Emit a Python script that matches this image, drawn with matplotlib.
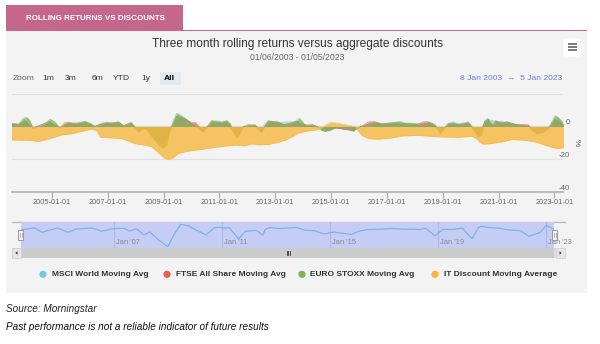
import matplotlib
matplotlib.use("Agg")
import matplotlib.pyplot as plt
from matplotlib.patches import Rectangle, Circle, FancyBboxPatch, Polygon
import matplotlib.transforms as mtransforms

plt.rcParams['font.family'] = ['Liberation Sans', 'DejaVu Sans']

# ---------------- data (decimal years, %) ----------------
euro_dates = [2003.55, 2003.79, 2003.97, 2004.10, 2004.21, 2004.32, 2004.45, 2004.63, 2004.81, 2004.93,
              2005.11, 2005.29, 2005.40, 2005.59, 2005.76, 2005.94, 2006.18, 2006.36, 2006.54, 2006.78,
              2006.96, 2007.14, 2007.38, 2007.56, 2007.83, 2007.97, 2008.10, 2008.21, 2008.33, 2008.45,
              2008.63, 2008.81, 2008.99, 2009.11, 2009.23, 2009.35, 2009.47, 2009.59, 2009.77, 2009.88,
              2010.00, 2010.12, 2010.24, 2010.42, 2010.60, 2010.72, 2010.90, 2011.08, 2011.26, 2011.38,
              2011.50, 2011.62, 2011.74, 2011.86, 2012.04, 2012.27, 2012.39, 2012.51, 2012.63, 2012.75,
              2012.93, 2013.11, 2013.29, 2013.41, 2013.59, 2013.77, 2013.85, 2013.94, 2014.06, 2014.18,
              2014.30, 2014.42, 2014.54, 2014.66, 2014.78, 2014.96, 2015.14, 2015.32, 2015.50, 2015.67,
              2015.79, 2015.91, 2016.09, 2016.27, 2016.45, 2016.63, 2016.81, 2017.05, 2017.29, 2017.47,
              2017.65, 2017.88, 2018.06, 2018.18, 2018.36, 2018.54, 2018.72, 2018.90, 2019.02, 2019.20,
              2019.38, 2019.55, 2019.73, 2019.91, 2020.03, 2020.15, 2020.27, 2020.39, 2020.51, 2020.61,
              2020.69, 2020.81, 2020.89, 2020.99, 2021.11, 2021.29, 2021.47, 2021.65, 2021.83, 2022.07,
              2022.19, 2022.37, 2022.61, 2022.79, 2022.90, 2023.02, 2023.13, 2023.25, 2023.32]
euro_vals = [1.6, 1.0, 5.0, 5.6, 3.6, -1.2, 0.0, 0.3, 2.6, 4.6,
             2.6, -1.0, 0.5, 2.6, 1.2, 2.0, 3.2, 2.0, 0.0, 2.0,
             2.6, 1.6, 3.0, 0.5, 2.6, 0.0, -3.4, -2.0, -0.5, -2.4,
             -7.4, -11.4, -13.4, -11.4, -2.4, 3.6, 8.0, 7.0, 5.0, 3.6,
             1.6, 1.0, -1.0, -3.4, 0.5, 3.6, 3.0, 2.6, 3.6, 2.0,
             -3.4, -7.0, -4.0, 0.0, 1.2, 0.8, -2.4, -3.4, 0.5, 3.6,
             3.0, 2.6, 1.2, 1.5, 2.0, 3.6, 5.0, 3.6, 1.0, 0.5,
             1.6, 0.3, -0.5, -2.4, -3.0, -2.4, -1.0, -0.5, -1.0, -1.8,
             -3.0, -1.0, 0.0, 1.0, 2.0, 2.6, 1.6, 2.0, 2.6, 3.0,
             2.0, 2.0, 1.6, 0.3, 1.4, 2.5, 1.0, -4.4, -1.5, 2.0,
             2.6, 1.4, 1.4, 2.6, 0.5, -3.4, -6.4, -5.0, 3.6, 5.0,
             2.6, 0.5, 3.6, 2.6, 1.4, 3.0, 2.0, 1.0, 0.5, 0.2,
             -2.4, -4.4, -3.4, -1.0, 2.6, 6.6, 5.6, 3.6, 1.5]

ftse_dates = [2003.55, 2003.79, 2004.05, 2004.32, 2004.55, 2004.90, 2005.29, 2005.45, 2005.60, 2005.90,
              2006.18, 2006.54, 2006.90, 2007.38, 2007.56, 2007.83, 2008.10, 2008.33, 2008.63, 2008.99,
              2009.23, 2009.47, 2009.77, 2010.00, 2010.12, 2010.24, 2010.42, 2010.72, 2011.08, 2011.26,
              2011.50, 2011.62, 2011.86, 2012.27, 2012.51, 2012.75, 2013.00, 2013.11, 2013.29, 2013.77,
              2014.06, 2014.42, 2014.78, 2015.14, 2015.79, 2016.09, 2016.35, 2016.55, 2016.81, 2017.29,
              2017.65, 2018.06, 2018.30, 2018.45, 2018.72, 2018.90, 2019.20, 2019.55, 2019.91, 2020.15,
              2020.27, 2020.51, 2020.61, 2020.81, 2020.89, 2021.29, 2021.65, 2021.90, 2022.07, 2022.19,
              2022.37, 2022.79, 2023.02, 2023.32]
ftse_vals = [2.0, 1.2, 3.5, -1.0, 0.6, 3.0, -0.8, 2.2, 2.4, 1.5,
             2.6, 0.2, 2.0, 2.4, 0.4, 2.0, -3.0, -0.8, -7.0, -12.0,
             -2.0, 6.5, 4.5, 2.4, 2.6, 0.5, -2.8, 3.0, 2.2, 3.0,
             -3.0, -6.0, 0.0, 1.0, -3.0, 3.0, 2.8, 2.7, 1.0, 3.0,
             1.0, 0.5, -2.5, -0.8, -2.5, 0.2, 2.8, 3.0, 1.4, 2.2,
             1.8, 1.2, 2.8, 3.0, 1.0, -4.0, 1.6, 1.2, 2.2, -3.0,
             -6.0, 3.0, 4.0, 0.5, 3.0, 2.4, 1.2, 1.2, 1.0, -2.0,
             -4.0, -0.8, 4.0, 1.2]

msci_dates = [2003.55, 2004.05, 2004.32, 2004.90, 2005.29, 2005.60, 2006.18, 2006.54, 2006.96, 2007.38,
              2007.56, 2007.83, 2008.10, 2008.33, 2008.63, 2008.99, 2009.23, 2009.47, 2009.77, 2010.00,
              2010.42, 2010.72, 2010.90, 2011.08, 2011.26, 2011.50, 2011.62, 2011.86, 2012.27, 2012.51,
              2012.60, 2012.75, 2013.11, 2013.77, 2014.06, 2014.42, 2014.78, 2015.14, 2015.79, 2016.09,
              2016.45, 2016.81, 2017.29, 2017.65, 2018.00, 2018.12, 2018.36, 2018.54, 2018.90, 2019.20,
              2019.55, 2019.91, 2020.15, 2020.27, 2020.51, 2020.61, 2020.89, 2021.29, 2021.65, 2022.07,
              2022.37, 2022.79, 2023.02, 2023.32]
msci_vals = [1.2, 3.0, -0.8, 2.8, -0.8, 2.0, 2.8, 0.2, 2.2, 2.6,
             0.3, 2.2, -3.0, -0.6, -7.0, -13.0, -2.5, 6.0, 4.6, 1.5,
             -3.0, 3.2, 3.4, 2.8, 3.2, -3.2, -6.5, 0.0, 0.9, -3.2,
             1.5, 3.2, 2.4, 3.2, 1.0, 0.6, -2.2, -0.6, -2.6, 0.2,
             1.6, 1.8, 2.4, 2.0, 1.8, 1.8, 1.6, 2.6, -3.8, 1.8,
             1.6, 2.8, -3.2, -6.2, 3.2, 4.4, 3.2, 2.6, 1.2, 0.6,
             -4.2, -1.0, 5.0, 1.8]

discount_dates = [2003.55, 2004.00, 2004.27, 2004.51, 2004.87, 2005.35, 2005.71, 2006.07, 2006.42, 2006.60,
                  2006.72, 2007.14, 2007.50, 2007.97, 2008.33, 2008.57, 2008.81, 2008.99, 2009.17, 2009.35,
                  2009.53, 2009.88, 2010.36, 2010.72, 2011.20, 2011.56, 2011.91, 2012.15, 2012.39, 2012.75,
                  2013.11, 2013.35, 2013.59, 2013.82, 2014.06, 2014.42, 2014.66, 2014.80, 2014.96, 2015.26,
                  2015.61, 2015.85, 2016.09, 2016.33, 2016.69, 2017.17, 2017.53, 2018.12, 2018.54, 2018.96,
                  2019.55, 2020.03, 2020.21, 2020.33, 2020.45, 2020.75, 2021.11, 2021.47, 2021.95, 2022.31,
                  2022.66, 2022.96, 2023.13, 2023.32]
discount_vals = [-8.2, -8.4, -8.6, -9.2, -7.6, -5.2, -4.4, -3.0, -1.6, -2.5,
                 -6.5, -7.0, -7.4, -10.5, -11.4, -12.4, -16.0, -19.0, -20.2, -19.0,
                 -16.4, -15.0, -14.0, -13.0, -12.0, -11.4, -11.8, -10.6, -11.2, -11.0,
                 -9.6, -8.4, -6.4, -4.0, -3.0, -2.2, -1.0, 1.0, 2.6, 2.0,
                 0.8, 0.0, -5.4, -7.4, -7.8, -7.0, -5.8, -5.4, -6.0, -6.4,
                 -6.6, -6.0, -7.4, -9.8, -10.8, -10.4, -9.4, -8.0, -8.4, -9.4,
                 -11.4, -13.0, -13.4, -13.0]

series_names = ["MSCI World Moving Avg", "FTSE All Share Moving Avg",
                "EURO STOXX Moving Avg", "IT Discount Moving Average"]
series_colors = ['#7cc6e2', '#e95f4c', '#7bb35b', '#f6b73e']

x_tick_years = [2005, 2007, 2009, 2011, 2013, 2015, 2017, 2019, 2021, 2023]
x_tick_labels = ['%d-01-01' % y for y in x_tick_years]
y_ticks = [-40, -20, 0, 20]
y_tick_labels = ['-40', '-20', '0', '']
nav_years = [2007, 2011, 2015, 2019, 2023]
nav_labels = ["Jan '07", "Jan '11", "Jan '15", "Jan '19", "Jan '23"]
x_range = (2003.55, 2023.32)

# ---------------- figure ----------------
W, H = 600, 344
fig = plt.figure(figsize=(6, 3.44), dpi=100)
fig.patch.set_facecolor('white')

def rect(x0, y0, x1, y1):
    return [x0 / W, 1 - y1 / H, (x1 - x0) / W, (y1 - y0) / H]

def pixel_axes(z):
    a = fig.add_axes([0, 0, 1, 1], zorder=z)
    a.set_xlim(0, W)
    a.set_ylim(H, 0)
    a.axis('off')
    a.patch.set_visible(False)
    return a

bg = pixel_axes(0)     # backgrounds and texts
fg = pixel_axes(5)     # overlays (navigator handles)

PINK = '#c4678a'
bg.add_patch(Rectangle((6, 31), 581, 262, fc='#f3f3f3', ec='none'))
bg.add_patch(Rectangle((6, 5), 177, 26, fc=PINK, ec='none'))
bg.add_patch(Rectangle((6, 29.6), 581, 1.8, fc=PINK, ec='none'))
bg.text(95, 18.5, "ROLLING RETURNS VS DISCOUNTS", color='white', fontsize=5.8,
        fontweight='bold', ha='center', va='center',
        family=['Liberation Sans Narrow', 'Liberation Sans', 'DejaVu Sans'])

bg.text(297, 44, "Three month rolling returns versus aggregate discounts",
        fontsize=8.6, color='#333333', ha='center', va='center')
bg.text(297, 57.5, "01/06/2003 - 01/05/2023", fontsize=6.2, color='#666666',
        ha='center', va='center')

# hamburger
bg.add_patch(FancyBboxPatch((563.5, 38.5), 17, 18, boxstyle='round,pad=0,rounding_size=2',
                            fc='white', ec='none'))
for yy in (44, 46.8, 49.6):
    bg.plot([567.5, 577], [yy, yy], color='#555555', lw=1.1, solid_capstyle='butt')

# zoom buttons
bg.add_patch(Rectangle((160, 71.7), 20.7, 13.3, fc='#e4e9f7', ec='none'))
btn = [("Zoom", 23.2, '#666666', 'normal'), ("1m", 48.5, '#333333', 'normal'),
       ("3m", 70.7, '#333333', 'normal'), ("6m", 97.3, '#333333', 'normal'),
       ("YTD", 121, '#333333', 'normal'), ("1y", 145.7, '#333333', 'normal'),
       ("All", 169.5, '#000000', 'bold')]
for t, x, c, w in btn:
    bg.text(x, 78.7, t, fontsize=6.1, color=c, fontweight=w, ha='center', va='center')
bg.text(562.5, 78.3, "8 Jan 2003  \u2192  5 Jan 2023", fontsize=6.1, color='#6b7fe6',
        ha='right', va='center')

# ---------------- main axes ----------------
ax = fig.add_axes(rect(11.5, 93.7, 563.4, 192), zorder=2)
ax.set_facecolor('none')
ax.set_xlim(*x_range)
ax.set_ylim(-40, 20)

all_dates = [msci_dates, ftse_dates, euro_dates, discount_dates]
all_vals = [msci_vals, ftse_vals, euro_vals, discount_vals]
fill_alpha = [0.6, 0.65, 0.75, 0.8]
for d, v, c, a in zip(all_dates, all_vals, series_colors, fill_alpha):
    ax.fill_between(d, 0, v, color=c, alpha=a, lw=0, zorder=3)
    ax.plot(d, v, color=c, lw=0.5, alpha=0.7, zorder=3)

ax.set_yticks(y_ticks)
ax.set_yticklabels(y_tick_labels)
ax.yaxis.tick_right()
ax.tick_params(axis='y', length=0, pad=4.8, labelsize=5.6, labelcolor='#666666')
for lbl in ax.get_yticklabels():
    lbl.set_ha('right')
    lbl.set_va('bottom')
ax.grid(axis='y', color='#e0e0e0', lw=0.8, zorder=0)
ax.set_xticks(x_tick_years)
ax.set_xticklabels(x_tick_labels)
ax.tick_params(axis='x', length=4.2, width=0.8, color='#aaaaaa', pad=1.2,
               labelsize=5.4, labelcolor='#666666')
for s in ('top', 'left', 'right'):
    ax.spines[s].set_visible(False)
ax.spines['bottom'].set_color('#b0b0b0')
ax.spines['bottom'].set_linewidth(1.2)
bg.text(576, 143, "%", fontsize=6, color='#666666', rotation=270, ha='center', va='center')

# ---------------- navigator ----------------
nav = fig.add_axes(rect(21, 221.7, 554.3, 248.3), zorder=2)
nav.set_facecolor('#c6cdf4')
nav.set_xlim(*x_range)
nav.set_ylim(-14.4, 8.2)
for s in nav.spines.values():
    s.set_visible(False)
nav.set_xticks([])
nav.set_yticks([])
for yr in nav_years:
    nav.axvline(yr, color='#b2badf', lw=0.8, zorder=1)
nav.plot(msci_dates, msci_vals, color='#7fb0ea', lw=0.9, zorder=2)
btrans = mtransforms.blended_transform_factory(nav.transData, nav.transAxes)
off = mtransforms.ScaledTranslation(2 / 100, 0, fig.dpi_scale_trans)
for yr, lab in zip(nav_years, nav_labels):
    nav.text(yr, 0.2, lab, transform=btrans + off, fontsize=5.4, color='#888888',
             ha='left', va='center', clip_on=False, zorder=3)

bg.plot([12, 565], [221.7, 221.7], color='#b5b5b5', lw=0.9)
# scrollbar
bg.add_patch(Rectangle((12.3, 248.3), 552.7, 9.4, fc='#dedede', ec='none'))
bg.add_patch(Rectangle((21, 248.3), 533.3, 9.4, fc='#cccccc', ec='none'))
bg.add_patch(Rectangle((12.3, 248.3), 8.7, 9.4, fc='#e6e6e6', ec='#cfcfcf', lw=0.5))
bg.add_patch(Rectangle((556, 248.3), 9, 9.4, fc='#e6e6e6', ec='#cfcfcf', lw=0.5))
bg.add_patch(Polygon([[15.3, 253], [17.5, 251.3], [17.5, 254.7]], closed=True, fc='#333333'))
bg.add_patch(Polygon([[561.7, 253], [559.5, 251.3], [559.5, 254.7]], closed=True, fc='#333333'))
for gx in (286.5, 288.3, 290.1):
    bg.plot([gx, gx], [251.2, 254.8], color='#333333', lw=0.6)
# handles
for hx in (18.3, 552.3):
    fg.add_patch(Rectangle((hx, 230), 5, 10, fc='#f2f2f2', ec='#999999', lw=0.7))
    for lx in (hx + 1.8, hx + 3.2):
        fg.plot([lx, lx], [233, 237], color='#999999', lw=0.5)

# ---------------- legend ----------------
leg_x = [43, 167, 302, 435]
for x, name, c in zip(leg_x, series_names, series_colors):
    bg.add_patch(Circle((x, 274.3), 3.6, fc=c, ec='none'))
    bg.text(x + 8.5, 274.6, name, fontsize=6.0, fontweight='bold', color='#333333',
            ha='left', va='center')

# ---------------- footer ----------------
bg.text(6, 309.3, "Source: Morningstar", fontsize=7.2, style='italic', color='#222222',
        ha='left', va='center')
bg.text(6, 327.3, "Past performance is not a reliable indicator of future results", fontsize=7.2,
        style='italic', color='#111111', ha='left', va='center')

fig.savefig('out.png', dpi=100, facecolor='white')
